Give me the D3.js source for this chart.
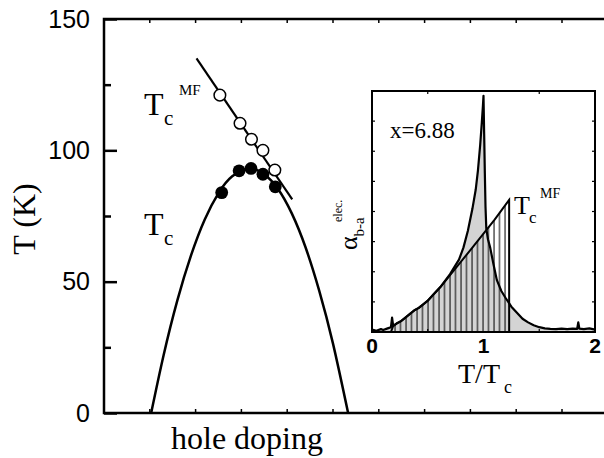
<!DOCTYPE html>
<html>
<head>
    <style>
        body { margin: 0; background: #fff; }
        .serif { font-family: "Liberation Serif", "Times New Roman", serif; fill: #000; }
        .sans { font-family: "Liberation Sans", Arial, sans-serif; fill: #000; }
        .frame { fill: none; stroke: #000; stroke-width: 2.5; }
        .tick line { stroke: #000; stroke-width: 2.5; }
    </style>
    <script src="https://d3js.org/d3.v7.min.js"></script>
</head>
<body>
    <svg width="604" height="458"></svg>
    <script>

        // main panel: Tc dome vs hole doping (doping in arbitrary units)
        var domeDoping = [1.03, 1.3, 1.6, 1.9, 2.2, 2.5, 2.8, 3.18, 3.5, 3.8, 4.1, 4.4, 4.7, 5.0, 5.33];
        var domeTc     = [0, 21.9, 42.8, 60.0, 73.7, 83.7, 90.1, 93.0, 90.9, 85.3, 76.0, 63.1, 46.5, 26.4, 0];

        var tcDoping   = [2.57, 2.95, 3.21, 3.47, 3.74];
        var tcValues   = [83.9, 92.2, 93.1, 90.9, 86.1];

        var mfDoping   = [2.53, 2.97, 3.22, 3.47, 3.73];
        var mfValues   = [121.0, 110.3, 104.2, 100.0, 92.5];

        var mfLineDoping = [2.02, 4.11];
        var mfLineT      = [135.0, 81.3];

        var yTicks      = [0, 50, 100, 150];
        var yMinorTicks = [25, 75, 125];

        // inset: alpha_b-a vs T/Tc
        var measRatio = [0.00, 0.04, 0.08, 0.10, 0.14, 0.17, 0.18, 0.19, 0.22, 0.26, 0.30, 0.34, 0.38, 0.42,
                         0.46, 0.50, 0.54, 0.58, 0.62, 0.66, 0.70, 0.74, 0.78, 0.82, 0.86, 0.90, 0.93, 0.95,
                         0.97, 0.985, 0.995, 1.00, 1.006, 1.012, 1.018, 1.025, 1.04, 1.06, 1.09, 1.12, 1.16,
                         1.20, 1.25, 1.30, 1.35, 1.40, 1.45, 1.50, 1.55, 1.60, 1.65, 1.70, 1.75, 1.80, 1.84,
                         1.85, 1.86, 1.90, 1.95, 2.00];
        var measAlpha = [0.010, 0.005, 0.012, 0.008, 0.015, 0.020, 0.060, 0.025, 0.035, 0.045, 0.060, 0.075, 0.090, 0.100,
                         0.115, 0.130, 0.150, 0.170, 0.190, 0.215, 0.240, 0.270, 0.300, 0.350, 0.420, 0.510, 0.590, 0.670,
                         0.775, 0.870, 0.940, 0.980, 0.820, 0.660, 0.520, 0.430, 0.385, 0.350, 0.280, 0.215, 0.170,
                         0.140, 0.105, 0.080, 0.055, 0.040, 0.028, 0.020, 0.015, 0.013, 0.012, 0.014, 0.012, 0.014, 0.013,
                         0.040, 0.014, 0.012, 0.015, 0.010];

        var mfRatio = [0.17, 0.19, 0.22, 0.26, 0.30, 0.34, 0.38, 0.42, 0.46, 0.50, 0.54, 0.58, 0.62, 0.66,
                       0.70, 0.74, 0.80, 0.90, 1.00, 1.10, 1.23, 1.23];
        var mfAlpha = [0, 0.025, 0.035, 0.045, 0.060, 0.075, 0.090, 0.100, 0.115, 0.130, 0.150, 0.170, 0.190, 0.213,
                       0.236, 0.259, 0.293, 0.350, 0.408, 0.466, 0.548, 0];

        var insetXTicks = [0, 1, 2];
        var insetXMinor = [0.5, 1.5];
        var insetYMinor = [0.125, 0.25, 0.375, 0.5, 0.625, 0.75, 0.875];

        var svg = d3.select("svg");

        var x = d3.scaleLinear().domain([0, 11]).range([104, 607.8]);
        var y = d3.scaleLinear().domain([0, 150]).range([413, 19]);

        // frame of main panel (right side runs off the page)
        svg.append("path")
           .attr("class", "frame")
           .attr("d", "M" + (x.range()[1] + 5) + "," + y(150) + "H" + x(0) + "V" + y(0) + "H" + (x.range()[1] + 5));

        var xt = d3.range(1, 11);
        svg.selectAll(".xtop").data(xt).enter().append("line")
           .attr("x1", function(d) { return x(d); }).attr("x2", function(d) { return x(d); })
           .attr("y1", y(150)).attr("y2", y(150) + 4)
           .attr("stroke", "#000").attr("stroke-width", 1.5);
        svg.selectAll(".xbot").data(xt).enter().append("line")
           .attr("x1", function(d) { return x(d); }).attr("x2", function(d) { return x(d); })
           .attr("y1", y(0)).attr("y2", y(0) - 4)
           .attr("stroke", "#000").attr("stroke-width", 1.5);

        var yAxis = svg.append("g")
           .attr("transform", "translate(" + x(0) + ",0)")
           .call(d3.axisLeft(y).tickValues(yTicks).tickSize(-13).tickSizeOuter(0).tickPadding(14));
        yAxis.select(".domain").remove();
        yAxis.selectAll("text")
             .attr("class", "sans")
             .style("font-size", "25px")
             .attr("font-family", null);

        var yMinor = svg.append("g")
           .attr("transform", "translate(" + x(0) + ",0)")
           .call(d3.axisLeft(y).tickValues(yMinorTicks).tickSize(-7).tickFormat(""));
        yMinor.select(".domain").remove();

        // dome
        var domeLine = d3.line()
            .x(function(d, i) { return x(domeDoping[i]); })
            .y(function(d, i) { return y(domeTc[i]); })
            .curve(d3.curveNatural);
        svg.append("path")
           .datum(domeTc)
           .attr("d", domeLine)
           .attr("fill", "none").attr("stroke", "#000").attr("stroke-width", 2.5);

        svg.append("line")
           .attr("x1", x(mfLineDoping[0])).attr("y1", y(mfLineT[0]))
           .attr("x2", x(mfLineDoping[1])).attr("y2", y(mfLineT[1]))
           .attr("stroke", "#000").attr("stroke-width", 2.2);

        svg.selectAll(".tc").data(tcValues).enter().append("circle")
           .attr("cx", function(d, i) { return x(tcDoping[i]); })
           .attr("cy", function(d) { return y(d); })
           .attr("r", 6.4)
           .attr("fill", "#000");

        svg.selectAll(".mf").data(mfValues).enter().append("circle")
           .attr("cx", function(d, i) { return x(mfDoping[i]); })
           .attr("cy", function(d) { return y(d); })
           .attr("r", 5.8)
           .attr("fill", "#fff").attr("stroke", "#000").attr("stroke-width", 1.5);

        // labels main panel
        svg.append("text").attr("class", "serif")
           .attr("transform", "translate(35,219) rotate(-90)")
           .attr("text-anchor", "middle")
           .style("font-size", "32px")
           .text("T (K)");

        svg.append("text").attr("class", "serif").attr("x", 171).attr("y", 449)
           .style("font-size", "32px").text("hole doping");

        svg.append("text").attr("class", "serif").attr("x", 144).attr("y", 115)
           .style("font-size", "32px").text("T");
        svg.append("text").attr("class", "serif").attr("x", 164).attr("y", 125)
           .style("font-size", "21px").text("c");
        svg.append("text").attr("class", "serif").attr("x", 179).attr("y", 95)
           .style("font-size", "15px").text("MF");

        svg.append("text").attr("class", "serif").attr("x", 144).attr("y", 235)
           .style("font-size", "32px").text("T");
        svg.append("text").attr("class", "serif").attr("x", 164).attr("y", 245)
           .style("font-size", "21px").text("c");

        // inset
        var xi = d3.scaleLinear().domain([0, 2]).range([372, 595]);
        var yi = d3.scaleLinear().domain([0, 1]).range([332, 91]);

        var defs = svg.append("defs");
        var pat = defs.append("pattern")
            .attr("id", "hatch")
            .attr("patternUnits", "userSpaceOnUse")
            .attr("x", 372).attr("y", 0)
            .attr("width", 5.5).attr("height", 10);
        pat.append("line")
           .attr("x1", 1).attr("x2", 1).attr("y1", 0).attr("y2", 10)
           .attr("stroke", "#000").attr("stroke-width", 1);

        svg.append("rect")
           .attr("x", xi(0)).attr("y", yi(1))
           .attr("width", xi(2) - xi(0)).attr("height", yi(0) - yi(1))
           .attr("fill", "#fff");

        var measArea = d3.area()
            .x(function(d, i) { return xi(measRatio[i]); })
            .y0(yi(0))
            .y1(function(d) { return yi(d); });
        var measLine = d3.line()
            .x(function(d, i) { return xi(measRatio[i]); })
            .y(function(d) { return yi(d); });
        var mfArea = d3.area()
            .x(function(d, i) { return xi(mfRatio[i]); })
            .y0(yi(0))
            .y1(function(d) { return yi(d); });
        var mfLine = d3.line()
            .x(function(d, i) { return xi(mfRatio[i]); })
            .y(function(d) { return yi(d); });

        svg.append("path").datum(measAlpha).attr("d", measArea).attr("fill", "#d4d4d4");
        svg.append("path").datum(mfAlpha).attr("d", mfArea).attr("fill", "url(#hatch)");
        svg.append("path").datum(mfAlpha).attr("d", mfLine)
           .attr("fill", "none").attr("stroke", "#000").attr("stroke-width", 2);
        svg.append("path").datum(measAlpha).attr("d", measLine)
           .attr("fill", "none").attr("stroke", "#000").attr("stroke-width", 2.2)
           .attr("stroke-linejoin", "round");

        svg.append("rect")
           .attr("x", xi(0)).attr("y", yi(1))
           .attr("width", xi(2) - xi(0)).attr("height", yi(0) - yi(1))
           .attr("fill", "none").attr("stroke", "#000").attr("stroke-width", 2);

        svg.selectAll(".ixt").data(insetXMinor).enter().append("line")
           .attr("x1", function(d) { return xi(d); }).attr("x2", function(d) { return xi(d); })
           .attr("y1", yi(1)).attr("y2", yi(1) + 3)
           .attr("stroke", "#000").attr("stroke-width", 1.2);
        svg.selectAll(".ixb").data(insetXMinor).enter().append("line")
           .attr("x1", function(d) { return xi(d); }).attr("x2", function(d) { return xi(d); })
           .attr("y1", yi(0)).attr("y2", yi(0) - 3)
           .attr("stroke", "#000").attr("stroke-width", 1.2);
        svg.selectAll(".iyl").data(insetYMinor).enter().append("line")
           .attr("x1", xi(0)).attr("x2", xi(0) + 3)
           .attr("y1", function(d) { return yi(d); }).attr("y2", function(d) { return yi(d); })
           .attr("stroke", "#000").attr("stroke-width", 1.2);
        svg.selectAll(".iyr").data(insetYMinor).enter().append("line")
           .attr("x1", xi(2)).attr("x2", xi(2) - 3)
           .attr("y1", function(d) { return yi(d); }).attr("y2", function(d) { return yi(d); })
           .attr("stroke", "#000").attr("stroke-width", 1.2);

        svg.selectAll(".ixl").data(insetXTicks).enter().append("text")
           .attr("class", "sans")
           .attr("x", function(d) { return xi(d); })
           .attr("y", 353)
           .attr("text-anchor", "middle")
           .style("font-size", "21px").style("font-weight", "bold")
           .text(function(d) { return d; });

        svg.append("text").attr("class", "serif").attr("x", 390).attr("y", 138)
           .style("font-size", "23px").text("x=6.88");

        svg.append("text").attr("class", "serif").attr("x", 514).attr("y", 214)
           .style("font-size", "26px").text("T");
        svg.append("text").attr("class", "serif").attr("x", 529).attr("y", 223)
           .style("font-size", "17px").text("c");
        svg.append("text").attr("class", "serif").attr("x", 540).attr("y", 198)
           .style("font-size", "14px").text("MF");

        svg.append("text").attr("class", "serif").attr("x", 458).attr("y", 383)
           .style("font-size", "28px").text("T/T");
        svg.append("text").attr("class", "serif").attr("x", 504).attr("y", 393)
           .style("font-size", "18px").text("c");

        var ylab = svg.append("text").attr("class", "serif")
           .attr("transform", "translate(357,250) rotate(-90)")
           .style("font-size", "26px");
        ylab.append("tspan").text("\u03b1");
        ylab.append("tspan").attr("dy", 7).style("font-size", "15px").text("b-a");
        svg.append("text").attr("class", "serif")
           .attr("transform", "translate(342,222) rotate(-90)")
           .style("font-size", "12px")
           .text("elec.");

    </script>
</body>
</html>
